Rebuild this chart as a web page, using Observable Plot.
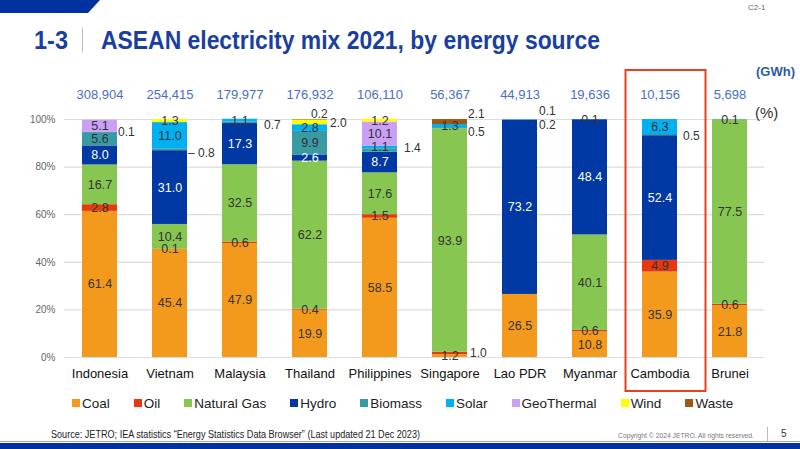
<!DOCTYPE html>
<html><head><meta charset="utf-8">
<script src="https://cdn.jsdelivr.net/npm/d3@7"></script>
<script src="https://cdn.jsdelivr.net/npm/@observablehq/plot@0.6"></script>
<style>
body{margin:0;background:#fff;font-family:"Liberation Sans",Arial,sans-serif;}
#page{position:relative;width:800px;height:449px;overflow:hidden;background:#fff;}
#chart{position:absolute;left:0;top:0;}
.abs{position:absolute;white-space:nowrap;}
.fit{transform-origin:0 0;}
#corner{left:0;top:0;width:100px;height:13px;background:#0033a0;clip-path:polygon(0 0,100% 0,88% 100%,0 100%);}
#code{left:748px;top:3px;font-size:8px;color:#666;}
#num{left:34px;top:25px;font-weight:bold;font-size:26px;color:#1b3fa0;}
#sep{left:82px;top:28px;width:1px;height:24px;background:#bbb;}
#title{left:101px;top:25px;font-weight:bold;font-size:26px;color:#1b3fa0;}
#gwh{left:756px;top:64px;font-size:13px;font-weight:bold;color:#2f5aa8;}
#pct{left:755px;top:104px;font-size:15px;color:#333;}
#legend{left:72px;top:396px;display:flex;gap:24px;font-size:13.5px;color:#222;}
#legend span.sw{display:inline-block;width:8px;height:8px;margin-right:2px;vertical-align:1px;}
#source{left:51px;top:429px;font-size:10px;color:#222;}
#copy{left:618px;top:431px;font-size:7.5px;color:#777;}
#vsep{left:767px;top:427px;width:1px;height:14px;background:#bbb;}
#page5{left:781px;top:428px;font-size:10px;color:#333;}
#grayline{left:0;top:441px;width:800px;height:1px;background:#aaa;}
#bottom{left:0;top:443px;width:800px;height:6px;background:#0033a0;}
</style></head><body>
<div id="page">
<div id="chart"></div>
<div class="abs" id="corner"></div>
<div class="abs" id="code">C2-1</div>
<div class="abs fit" id="num" data-w="34">1-3</div>
<div class="abs" id="sep"></div>
<div class="abs fit" id="title" data-w="499">ASEAN electricity mix 2021, by energy source</div>
<div class="abs" id="gwh">(GWh)</div>
<div class="abs" id="pct">(%)</div>
<div class="abs" id="legend"></div>
<div class="abs fit" id="source" data-w="369">Source: JETRO; IEA statistics “Energy Statistics Data Browser” (Last updated 21 Dec 2023)</div>
<div class="abs fit" id="copy" data-w="136">Copyright © 2024 JETRO. All rights reserved.</div>
<div class="abs" id="vsep"></div>
<div class="abs" id="page5">5</div>
<div class="abs" id="grayline"></div>
<div class="abs" id="bottom"></div>
</div>
<script>
const countries = ["Indonesia","Vietnam","Malaysia","Thailand","Philippines","Singapore","Lao PDR","Myanmar","Cambodia","Brunei"];
const totalsGWh = [308904,254415,179977,176932,106110,56367,44913,19636,10156,5698];
const sourceNames = ["Coal","Oil","Natural Gas","Hydro","Biomass","Solar","GeoThermal","Wind","Waste"];
const sourceColors = ["#f39a1c","#e63a0e","#86c651","#0039a3","#3a9aa4","#00b0f0","#c9a0f4","#ffff00","#9c5a14"];
const coal    = [61.4,45.4,47.9,19.9,58.5,1.2,26.5,10.8,35.9,21.8];
const oil     = [2.8,0.1,0.6,0.4,1.5,1.0,0,0.6,4.9,0.6];
const gas     = [16.7,10.4,32.5,62.2,17.6,93.9,0,40.1,0,77.5];
const hydro   = [8.0,31.0,17.3,2.6,8.7,0,73.2,48.4,52.4,0];
const biomass = [5.6,0.8,0.7,9.9,1.4,0.5,0.2,0,0.5,0];
const solar   = [0.1,11.0,1.1,2.8,1.1,1.3,0.1,0.1,6.3,0.1];
const geo     = [5.1,0,0,0,10.1,0,0,0,0,0];
const wind    = [0,1.3,0,2.0,1.2,0,0,0,0,0];
const waste   = [0,0,0,0.2,0,2.1,0,0,0,0];
const highlighted = "Cambodia";
// labels drawn beside the bar (country, source, label nudge)
const outsideLabels = [
  {country:"Indonesia", source:"Solar", dx:18, dy:0},
  {country:"Vietnam", source:"Biomass", dx:18, dy:3, leader:true},
  {country:"Malaysia", source:"Biomass", dx:24, dy:2},
  {country:"Thailand", source:"Wind", dx:20, dy:1},
  {country:"Thailand", source:"Waste", dx:1, dy:-6},
  {country:"Philippines", source:"Biomass", dx:24, dy:-2},
  {country:"Singapore", source:"Waste", dx:18, dy:-8},
  {country:"Singapore", source:"Biomass", dx:18, dy:4},
  {country:"Singapore", source:"Oil", dx:20, dy:0},
  {country:"Lao PDR", source:"Solar", dx:19, dy:-8},
  {country:"Lao PDR", source:"Biomass", dx:19, dy:5},
  {country:"Cambodia", source:"Biomass", dx:23, dy:1}
];

const seriesValues = [coal,oil,gas,hydro,biomass,solar,geo,wind,waste];
const rows = [];
countries.forEach((c,i)=>{
  let acc = 0;
  sourceNames.forEach((s,j)=>{
    const v = seriesValues[j][i];
    if (v > 0) rows.push({country:c, source:s, value:v, y1:acc, y2:acc+v, mid:acc+v/2});
    acc += v;
  });
});
const isOutside = d => outsideLabels.some(o=>o.country===d.country && o.source===d.source);
const inside = rows.filter(d=>!isOutside(d));
const totals = countries.map((c,i)=>({country:c, total:totalsGWh[i]}));
const fmt = d3.format(",");

const outsideMarks = outsideLabels.map(o=>{
  const r = rows.filter(d=>d.country===o.country && d.source===o.source);
  return Plot.text(r, {x:"country", y:"mid", text:d=>(o.leader?"– ":"")+d.value.toFixed(1),
    dx:o.dx, dy:o.dy, textAnchor:"start", fontSize:12, fill:"#333"});
});

const chart = Plot.plot({
  width:800, height:449,
  marginLeft:64, marginRight:36, marginTop:119, marginBottom:92,
  x:{domain:countries, paddingInner:0.5, paddingOuter:0.25, label:null},
  y:{domain:[0,100], label:null},
  color:{domain:sourceNames, range:sourceColors},
  style:{fontFamily:"Liberation Sans, Arial, sans-serif", background:"transparent", overflow:"visible"},
  marks:[
    Plot.gridY({ticks:[0,20,40,60,80,100], stroke:"#dcdcdc", strokeOpacity:1, strokeWidth:1.2}),
    Plot.axisY({ticks:[0,20,40,60,80,100], tickSize:0, tickPadding:9, tickFormat:d=>d+"%", fontSize:10, color:"#666", label:null}),
    Plot.axisX({tickSize:0, tickPadding:11, fontSize:13, color:"#111", label:null}),
    Plot.barY(rows, {x:"country", y1:"y1", y2:"y2", fill:"source"}),
    Plot.text(inside.filter(d=>d.source!=="Hydro"), {x:"country", y:"mid", text:d=>d.value.toFixed(1), fontSize:12.5, fill:"#333"}),
    Plot.text(inside.filter(d=>d.source==="Hydro"), {x:"country", y:"mid", text:d=>d.value.toFixed(1), fontSize:12.5, fill:"#fff"}),
    ...outsideMarks,
    Plot.text(totals, {x:"country", y:100, dy:-25, text:d=>fmt(d.total), fontSize:13, fill:"#4a6fc4"}),
    Plot.barY([{country:highlighted}], {x:"country", y1:0, y2:100, insetTop:-49, insetBottom:-34, insetLeft:-16.5, insetRight:-28.5, fill:"none", stroke:"#e8401c", strokeWidth:2})
  ]
});
document.getElementById("chart").appendChild(chart);

const legend = document.getElementById("legend");
sourceNames.forEach((s,i)=>{
  const item = document.createElement("div");
  item.innerHTML = `<span class="sw" style="background:${sourceColors[i]}"></span>${s}`;
  legend.appendChild(item);
});
// condense texts to the reference's narrow type
document.querySelectorAll(".fit").forEach(el=>{
  const w = el.getBoundingClientRect().width;
  const target = +el.dataset.w;
  el.style.transform = `scaleX(${target / w})`;
});
</script>
</body></html>
